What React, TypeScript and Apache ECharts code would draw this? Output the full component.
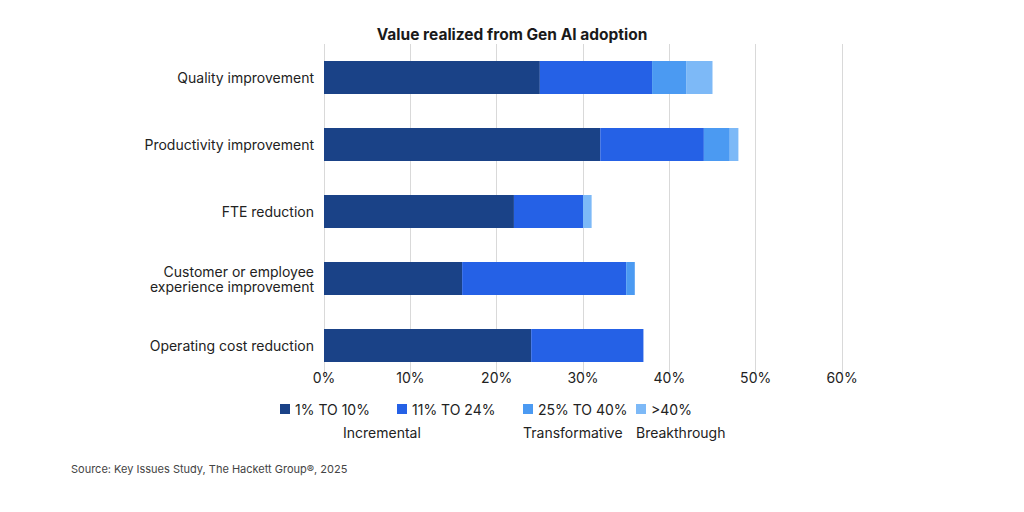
import * as echarts from "echarts";
import { useEffect, useRef } from "react";

const categories = [
    "Quality improvement",
    "Productivity improvement",
    "FTE reduction",
    "Customer or employee\nexperience improvement",
    "Operating cost reduction",
];
const seriesNames = ["1% TO 10%", "11% TO 24%", "25% TO 40%", ">40%"];
const low = [25, 32, 22, 16, 24];
const mid = [13, 12, 8, 19, 13];
const high = [4, 3, 0, 1, 0];
const top = [3, 1, 1, 0, 0];
const xTicks = [0, 10, 20, 30, 40, 50, 60];
const groups = ["Incremental", "Transformative", "Breakthrough"];

const colors = ["#1a4287", "#2561e6", "#4b9af2", "#7db9f7"];
const font = "Inter, 'Noto Sans', sans-serif";

const App: React.FC = () => {
    const node = useRef<HTMLDivElement>(null);

    useEffect(() => {
        const chart = echarts.init(node.current, undefined, { renderer: "svg" });
        const values = [low, mid, high, top];
        const legendX = [275, 392, 518, 631];
        const option: echarts.EChartsOption = {
            animation: false,
            textStyle: { fontFamily: font },
            title: {
                text: "Value realized from Gen AI adoption",
                left: "center",
                top: 21,
                textStyle: { fontSize: 15.5, fontWeight: "bold", color: "#1a1a1a", fontFamily: font },
            },
            legend: seriesNames.map((name, i) => ({
                data: [name],
                left: legendX[i],
                top: 397,
                itemWidth: 10,
                itemHeight: 10,
                itemGap: 4,
                icon: "rect",
                textStyle: { fontSize: 14, color: "#222", fontFamily: font },
            })),
            grid: { left: 324, right: 182, top: 44, bottom: 133 },
            xAxis: {
                type: "value",
                min: xTicks[0],
                max: xTicks[xTicks.length - 1],
                interval: 10,
                axisLine: { show: false },
                axisTick: { show: false },
                splitLine: { lineStyle: { color: "#d9d9d9" } },
                axisLabel: {
                    formatter: "{value}%",
                    fontSize: 14,
                    color: "#222",
                    margin: -9,
                    fontFamily: font,
                },
            },
            yAxis: {
                type: "category",
                inverse: true,
                data: categories,
                axisLine: { show: false },
                axisTick: { show: false },
                axisLabel: {
                    fontSize: 14,
                    color: "#222",
                    margin: 10,
                    lineHeight: 15,
                    fontFamily: font,
                },
            },
            series: seriesNames.map((name, i) => ({
                name,
                type: "bar",
                stack: "total",
                barWidth: 33,
                itemStyle: { color: colors[i] },
                data: values[i],
            })),
            graphic: [
                {
                    type: "text",
                    left: 343,
                    top: 425,
                    style: { text: groups[0], fontSize: 14, fill: "#222", fontFamily: font },
                },
                {
                    type: "text",
                    left: 523,
                    top: 425,
                    style: { text: groups[1], fontSize: 14, fill: "#222", fontFamily: font },
                },
                {
                    type: "text",
                    left: 636,
                    top: 425,
                    style: { text: groups[2], fontSize: 14, fill: "#222", fontFamily: font },
                },
                {
                    type: "text",
                    left: 71,
                    top: 463,
                    style: {
                        text: "Source: Key Issues Study, The Hackett Group\u00ae, 2025",
                        fontSize: 11,
                        fill: "#444",
                        fontFamily: font,
                    },
                },
            ],
        };
        chart.setOption(option);
        return () => {
            chart.dispose();
        };
    }, []);

    return (
        <div
            ref={node}
            style={{ position: "fixed", left: 0, top: 0, width: 1024, height: 512, background: "#fff" }}
        ></div>
    );
};

export default App;
